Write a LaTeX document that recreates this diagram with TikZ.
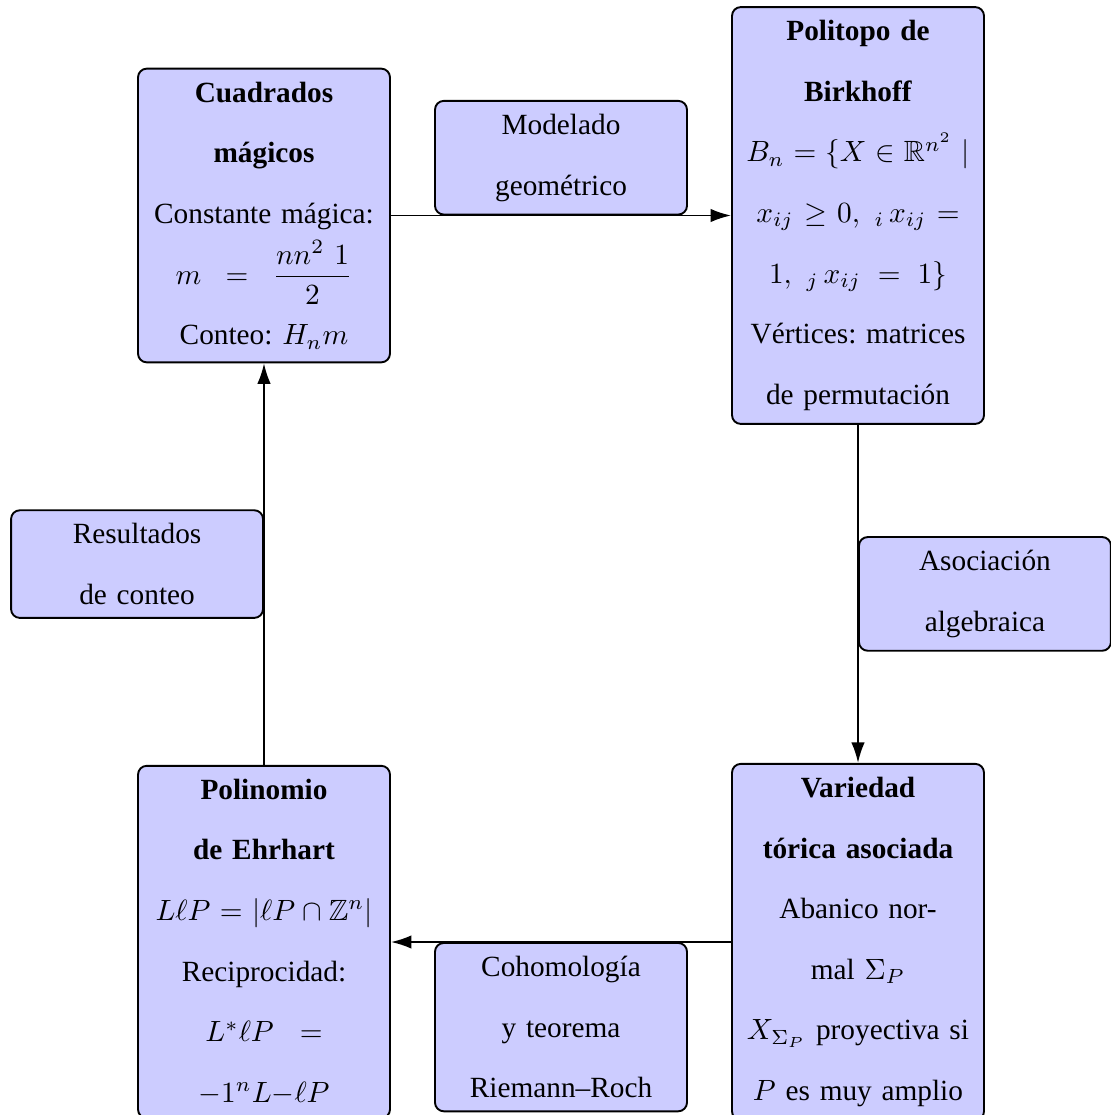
\documentclass[tikz,border=0pt]{standalone}
\usepackage{fontspec}
\setmainfont{Liberation Serif}
\usepackage{amsmath,amssymb}
\usetikzlibrary{arrows.meta}
\frenchspacing
\tikzset{
  box/.style={draw=black, fill=blue!20, rounded corners=3pt, line width=0.65pt,
    text width=80pt, inner xsep=3pt, inner ysep=4.5pt, align=center,
    font=\fontsize{10}{20.7}\selectfont\frenchspacing},
  arr/.style={line width=0.65pt, -{Latex[length=7pt,width=4.6pt]}},
}
\begin{document}
\begin{tikzpicture}[x=0.3413pt, y=-0.3413pt]
\useasboundingbox (0,0) rectangle (1110,1115);
\node[box] (cuad) at (264,215.5) {\textbf{Cuadrados}\\ \textbf{mágicos}\\ Constante mágica:\\ $m\;=\;\dfrac{nn^2\ 1}{2}$\\ Conteo: $H_n m$};
\node[box] (birk) at (858,215.5) {\textbf{Politopo de}\\ \textbf{Birkhoff}\\ $B_n = \{X \in \mathbb{R}^{n^2} \mid$\\ $x_{ij} \geq 0,\ {}_i\,x_{ij} =$\\ $1,\ {}_j\,x_{ij}\,=\,1\}$\\ Vértices: matrices\\ de permutación};
\node[box] (vari) at (858,942) {\textbf{Variedad}\\ \textbf{tórica asociada}\\ Abanico nor-\\ mal $\Sigma_P$\\ $X_{\Sigma_P}$ proyectiva si\\ $P$ es muy amplio};
\node[box] (poli) at (264,942) {\textbf{Polinomio}\\ \textbf{de Ehrhart}\\ $L\ell P = |\ell P \cap \mathbb{Z}^n|$\\ Reciprocidad:\\ $L^{*}\ell P\ =$\\ $-1^n L{-}\ell P$};
\draw[arr] (cuad) -- (birk) node[box, midway, above] (l1) {Modelado\\ geométrico};
\draw[arr] (birk) -- (vari) node[box, midway, right] (l2) {Asociación\\ algebraica};
\draw[arr] (vari) -- (poli) node[box, midway, below] (l3) {Cohomología\\ y teorema\\ Riemann--Roch};
\draw[arr] (poli) -- (cuad) node[box, midway, left] (l4) {Resultados\\ de conteo};
\end{tikzpicture}
\end{document}
